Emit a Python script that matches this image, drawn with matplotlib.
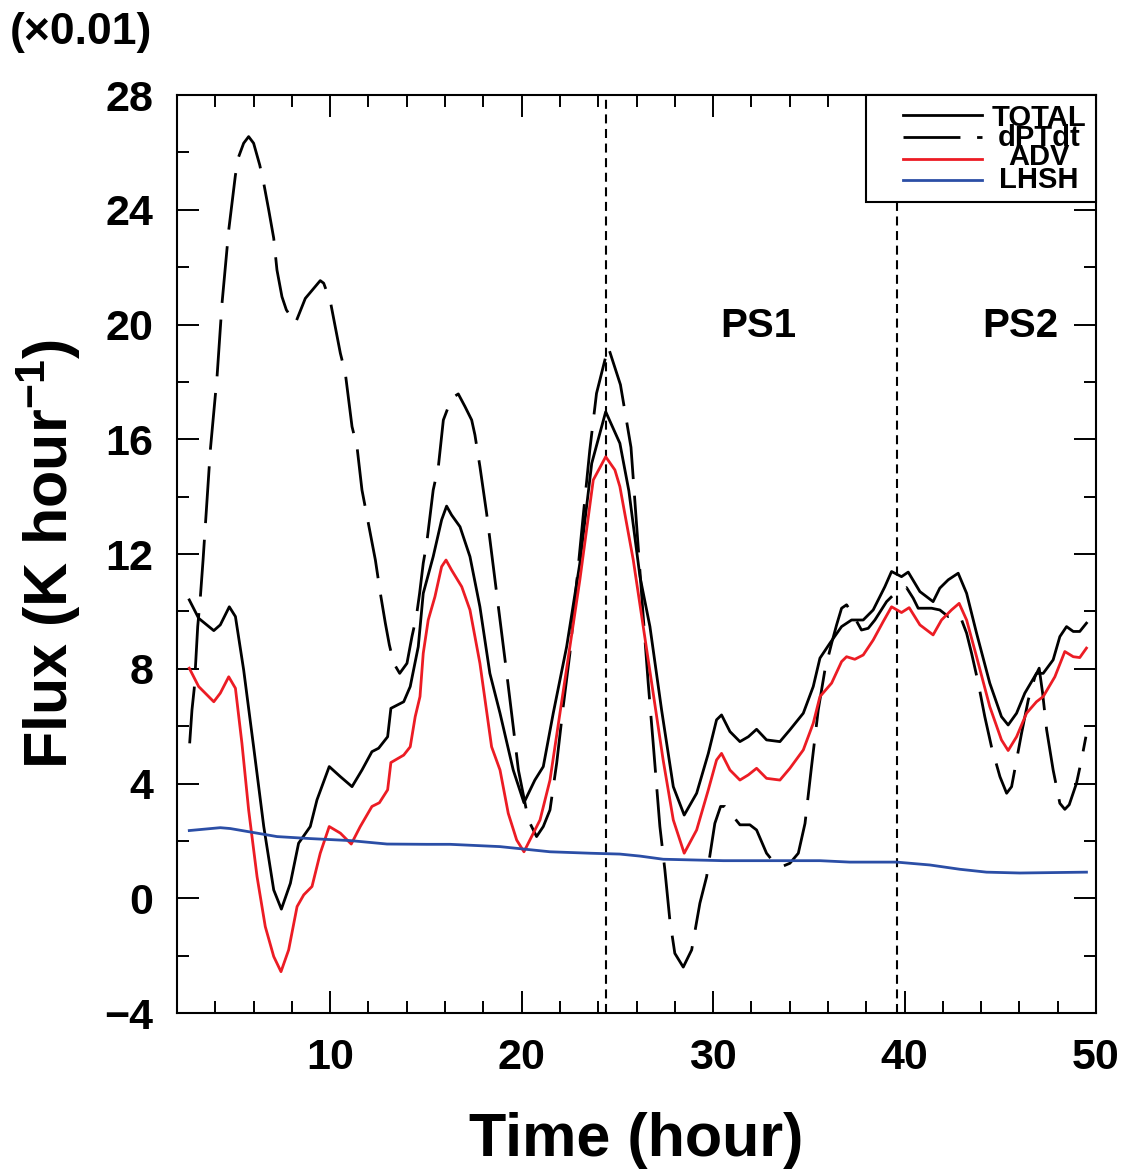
import numpy as np
import matplotlib
matplotlib.use("Agg")
import matplotlib.pyplot as plt
from matplotlib.ticker import MultipleLocator
from matplotlib.patches import Rectangle

plt.rcParams['font.family'] = ['Liberation Sans', 'DejaVu Sans']
plt.rcParams['font.weight'] = 'bold'
plt.rcParams['mathtext.fontset'] = 'custom'
plt.rcParams['mathtext.rm'] = 'Liberation Sans:bold'
plt.rcParams['mathtext.default'] = 'rm'
plt.rcParams['lines.scale_dashes'] = False

# TOTAL (solid black)
total_t = [2.64, 3.13, 3.92, 4.26, 4.73, 5.05, 5.48, 6.0, 6.53, 7.05,
           7.45, 7.92, 8.35, 8.96, 9.31, 9.95, 10.53, 11.14, 11.66, 12.18,
           12.53, 13.0, 13.17, 13.84, 14.18, 14.6, 14.86, 15.38, 15.82, 16.08,
           16.34, 16.78, 17.3, 17.82, 18.34, 18.87, 19.56, 20.12, 20.69, 21.13,
           21.65, 22.35, 23.04, 23.66, 24.39, 25.13, 25.6, 26.18, 26.7, 27.31,
           27.92, 28.49, 29.14, 29.75, 30.18, 30.44, 30.88, 31.4, 31.84, 32.27,
           32.79, 33.49, 34.01, 34.71, 35.23, 35.58, 36.1, 36.71, 37.23, 37.84,
           38.36, 38.97, 39.32, 39.84, 40.19, 40.8, 41.49, 41.84, 42.28, 42.8,
           43.24, 43.76, 44.45, 45.06, 45.41, 45.85, 46.28, 46.89, 47.24, 47.76,
           48.11, 48.46, 48.81, 49.15, 49.5]
total_v = [10.40, 9.76, 9.33, 9.53, 10.16, 9.82, 7.96, 5.28, 2.50, 0.29,
           -0.38, 0.52, 1.92, 2.50, 3.43, 4.59, 4.24, 3.89, 4.47, 5.11,
           5.23, 5.63, 6.62, 6.85, 7.38, 8.77, 10.63, 11.91, 13.19, 13.67,
           13.36, 12.95, 11.91, 10.16, 7.84, 6.45, 4.47, 3.33, 4.12, 4.59,
           6.45, 8.77, 11.68, 15.16, 16.96, 15.86, 14.2, 11.21, 9.47, 6.56,
           3.89, 2.90, 3.66, 5.05, 6.22, 6.39, 5.81, 5.46, 5.63, 5.89,
           5.52, 5.46, 5.87, 6.45, 7.38, 8.37, 8.89, 9.47, 9.70, 9.70,
           10.05, 10.86, 11.39, 11.21, 11.37, 10.69, 10.34, 10.81, 11.10, 11.33,
           10.63, 9.24, 7.50, 6.33, 6.04, 6.45, 7.15, 7.84, 7.84, 8.31,
           9.12, 9.47, 9.30, 9.30, 9.59]

# dPTdt (long dashed black)
dptdt_t = [2.66, 2.78, 2.90, 2.96, 3.08, 3.22, 3.36, 3.60, 3.74, 4.09,
           4.35, 4.70, 5.05, 5.22, 5.48, 5.74, 6.0, 6.32, 6.53, 6.79,
           7.05, 7.22, 7.48, 7.71, 8.18, 8.70, 9.48, 9.66, 10.01, 10.53,
           10.79, 11.14, 11.40, 11.66, 12.36, 12.62, 12.88, 13.09, 13.32, 13.63,
           14.01, 14.27, 14.50, 14.67, 14.86, 15.04, 15.38, 15.65, 15.91, 16.34,
           16.69, 17.04, 17.39, 17.56, 17.82, 18.17, 18.52, 18.87, 19.22, 19.56,
           19.83, 20.35, 20.78, 21.13, 21.48, 21.83, 22.17, 22.52, 22.87, 23.21,
           23.56, 23.91, 24.52, 25.16, 25.71, 26.35, 26.61, 26.87, 27.22, 27.48,
           27.74, 28.0, 28.44, 28.88, 29.31, 29.66, 30.09, 30.39, 30.61, 31.05,
           31.40, 31.92, 32.27, 32.79, 33.14, 33.58, 34.01, 34.45, 34.80, 35.14,
           35.49, 35.84, 36.19, 36.45, 36.71, 36.97, 37.31, 37.75, 38.10, 38.45,
           39.06, 39.50, 40.10, 40.45, 40.71, 41.41, 41.84, 42.28, 42.71, 42.98,
           43.24, 43.50, 43.85, 44.19, 44.54, 44.98, 45.33, 45.59, 45.85, 46.11,
           46.46, 46.81, 47.03, 47.21, 47.42, 47.76, 48.11, 48.37, 48.60, 48.98,
           49.24, 49.47]
dptdt_v = [5.40, 6.56, 7.32, 8.02, 9.47, 10.51, 11.79, 14.23, 15.63, 18.18,
           20.74, 23.29, 25.21, 25.85, 26.32, 26.55, 26.32, 25.56, 24.92, 23.99,
           23.01, 21.90, 20.97, 20.51, 20.04, 20.91, 21.53, 21.44, 20.80, 19.0,
           18.30, 16.44, 15.74, 14.23, 11.79, 10.63, 9.59, 8.83, 8.19, 7.84,
           8.19, 9.12, 9.82, 10.63, 11.68, 12.37, 14.23, 15.05, 16.67, 17.43,
           17.58, 17.14, 16.67, 16.15, 15.05, 13.42, 11.56, 9.70, 7.84, 5.98,
           4.47, 2.73, 2.15, 2.50, 3.08, 4.71, 6.68, 8.54, 10.98, 13.30,
           15.63, 17.60, 19.22, 17.90, 15.72, 9.82, 7.50, 5.40, 2.50, 0.99,
           -0.76, -1.92, -2.40, -1.80, -0.17, 0.75, 2.61, 3.20, 3.20, 2.85,
           2.56, 2.56, 2.38, 1.57, 1.28, 1.10, 1.22, 1.57, 2.61, 4.59,
           6.56, 7.96, 8.89, 9.53, 10.11, 10.23, 9.88, 9.35, 9.41, 9.70,
           10.34, 10.63, 10.83, 10.46, 10.11, 10.11, 10.05, 9.82, 9.91, 9.70,
           9.24, 8.54, 7.50, 6.33, 5.28, 4.24, 3.66, 3.89, 4.82, 5.75,
           6.91, 7.72, 8.02, 7.15, 5.87, 4.47, 3.31, 3.10, 3.26, 4.01,
           4.82, 5.63]

# ADV (red)
adv_t = [2.64, 3.13, 3.92, 4.26, 4.70, 5.05, 5.39, 5.74, 6.18, 6.61,
         7.05, 7.43, 7.83, 8.27, 8.62, 9.05, 9.48, 9.95, 10.53, 11.10,
         11.57, 12.18, 12.57, 13.0, 13.17, 13.84, 14.18, 14.44, 14.69, 14.86,
         15.12, 15.47, 15.82, 16.05, 16.34, 16.87, 17.30, 17.82, 18.43, 18.87,
         19.30, 19.74, 20.12, 20.52, 20.96, 21.48, 22.0, 22.52, 23.04, 23.74,
         24.39, 24.87, 25.13, 25.83, 26.35, 26.87, 27.39, 27.92, 28.49, 29.14,
         29.75, 30.18, 30.44, 30.88, 31.40, 31.84, 32.27, 32.79, 33.49, 34.01,
         34.71, 35.23, 35.58, 36.19, 36.71, 36.97, 37.40, 37.84, 38.36, 38.88,
         39.32, 39.84, 40.24, 40.80, 41.49, 41.93, 42.45, 42.85, 43.24, 43.76,
         44.45, 45.06, 45.41, 45.85, 46.37, 46.89, 47.24, 47.85, 48.37, 48.81,
         49.15, 49.50]
adv_v = [8.02, 7.38, 6.85, 7.15, 7.72, 7.32, 5.40, 3.08, 0.75, -0.99,
         -2.03, -2.56, -1.80, -0.29, 0.12, 0.41, 1.57, 2.50, 2.27, 1.89,
         2.50, 3.20, 3.33, 3.78, 4.73, 4.99, 5.28, 6.33, 7.03, 8.54,
         9.70, 10.51, 11.56, 11.79, 11.44, 10.86, 10.05, 8.19, 5.28, 4.47,
         2.96, 2.03, 1.62, 2.15, 2.73, 4.12, 6.45, 8.77, 11.10, 14.58,
         15.39, 14.93, 14.35, 11.79, 9.47, 7.15, 4.82, 2.73, 1.57, 2.38,
         3.78, 4.82, 5.05, 4.47, 4.12, 4.30, 4.53, 4.18, 4.12, 4.53,
         5.17, 6.10, 7.03, 7.50, 8.25, 8.42, 8.33, 8.48, 9.00, 9.64,
         10.16, 9.96, 10.13, 9.53, 9.18, 9.70, 10.05, 10.28, 9.70, 8.42,
         6.68, 5.52, 5.15, 5.63, 6.45, 6.85, 7.03, 7.72, 8.60, 8.42,
         8.39, 8.72]

# LHSH (blue)
lhsh_t = [2.64, 4.26, 4.78, 6.0, 7.22, 8.96, 11.05, 12.97, 15.05, 16.26,
          18.87, 21.48, 23.57, 25.13, 26.18, 27.39, 30.53, 35.58, 37.14, 39.58,
          41.32, 42.89, 44.28, 46.02, 49.50]
lhsh_v = [2.36, 2.46, 2.43, 2.29, 2.15, 2.08, 2.01, 1.89, 1.88, 1.88,
          1.80, 1.62, 1.57, 1.54, 1.47, 1.36, 1.31, 1.31, 1.26, 1.26,
          1.16, 1.01, 0.91, 0.88, 0.91]

phase_lines = [24.4, 39.6]
phase_names = ['PS1', 'PS2']
phase_label_x = [32.35, 46.05]

RED = '#ec1c24'
BLUE = '#2b4ea6'
LW = 2.0

fig = plt.figure(figsize=(11.29, 11.73), dpi=100)
ax = fig.add_axes([0.1568, 0.1364, 0.8140, 0.7826])

ax.plot(total_t, total_v, color='black', lw=LW, zorder=4)
ax.plot(dptdt_t, dptdt_v, color='black', lw=LW, dashes=(41, 12), zorder=4)
ax.plot(adv_t, adv_v, color=RED, lw=LW, zorder=5)
ax.plot(lhsh_t, lhsh_v, color=BLUE, lw=LW, zorder=5)

for xv in phase_lines:
    ax.axvline(xv, color='black', lw=1.5, dashes=(6.5, 4), zorder=3)
for name, xv in zip(phase_names, phase_label_x):
    ax.text(xv, 19.95, name, fontsize=29, fontweight='bold',
            ha='center', va='center')

ax.set_xlim(2, 50)
ax.set_ylim(-4, 28)
ax.xaxis.set_major_locator(MultipleLocator(10))
ax.xaxis.set_minor_locator(MultipleLocator(2))
ax.yaxis.set_major_locator(MultipleLocator(4))
ax.yaxis.set_minor_locator(MultipleLocator(2))
ax.tick_params(which='both', direction='in', top=True, right=True, width=1.4)
ax.tick_params(which='major', length=16, labelsize=31)
ax.tick_params(axis='x', which='major', pad=18)
ax.tick_params(axis='y', which='major', pad=17)
ax.tick_params(which='minor', length=8.5)
for lab in ax.get_xticklabels() + ax.get_yticklabels():
    lab.set_fontweight('bold')
for sp in ax.spines.values():
    sp.set_linewidth(1.5)

ax.set_xlabel('Time (hour)', fontsize=44, fontweight='bold', va='center')
ax.xaxis.set_label_coords(0.5, -0.139)
ax.set_ylabel('Flux (K hour$^{-1}$)', fontsize=44, fontweight='bold', va='center')
ax.yaxis.set_label_coords(-0.140, 0.5)

fig.text(0.009, 0.972, '(×0.01)', fontsize=32, fontweight='bold',
         ha='left', va='center')

# legend box drawn by hand (entries are centred text on the right)
tr = ax.transAxes
ax.add_patch(Rectangle((0.7497, 0.8834), 0.2503, 0.1166, transform=tr,
                       facecolor='white', edgecolor='black', lw=1.5,
                       zorder=6, clip_on=False))
leg_names = ['TOTAL', 'dPTdt', 'ADV', 'LHSH']
leg_colors = ['black', 'black', RED, BLUE]
leg_dashes = [None, (41, 12), None, None]
leg_line_y = [0.9782, 0.9542, 0.9303, 0.9074]
leg_text_y = [0.975, 0.953, 0.932, 0.907]
for name, c, d, ly, ty in zip(leg_names, leg_colors, leg_dashes,
                              leg_line_y, leg_text_y):
    ln, = ax.plot([0.790, 0.876], [ly, ly], color=c, lw=LW,
                  transform=tr, zorder=7, clip_on=False)
    if d is not None:
        ln.set_dashes(d)
    ax.text(0.938, ty, name, transform=tr, fontsize=21, fontweight='bold',
            ha='center', va='center', zorder=8)

fig.savefig('out.png', dpi=100)
